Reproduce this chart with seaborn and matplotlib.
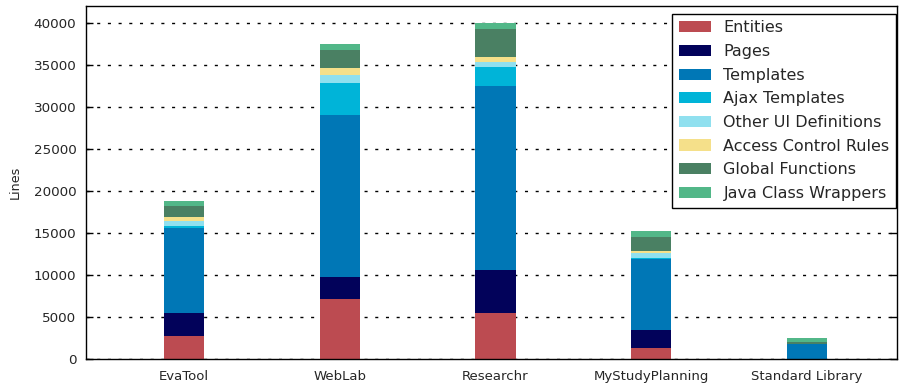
import numpy as np
import pandas as pd
import matplotlib
matplotlib.use("Agg")
import matplotlib.pyplot as plt
import seaborn as sns
from matplotlib.patches import Patch

categories = ["EvaTool", "WebLab", "Researchr", "MyStudyPlanning", "Standard Library"]
series = ["Entities", "Pages", "Templates", "Ajax Templates", "Other UI Definitions",
          "Access Control Rules", "Global Functions", "Java Class Wrappers"]
entities = [2750, 7150, 5500, 1300, 0]
pages = [2750, 2600, 5100, 2150, 0]
templates = [10100, 19300, 21900, 8400, 1800]
ajax_templates = [250, 3800, 2250, 150, 0]
other_ui = [550, 950, 600, 600, 0]
access_control = [450, 850, 600, 250, 0]
global_functions = [1350, 2150, 3350, 1650, 250]
java_wrappers = [550, 700, 700, 700, 450]
colors = ["#BC4B51", "#02025A", "#0077B6", "#00B4D8", "#90E0EF",
          "#F5E08A", "#4A8063", "#52B788"]

values = [entities, pages, templates, ajax_templates, other_ui,
          access_control, global_functions, java_wrappers]

sns.set_style("white")
plt.rcParams['font.family'] = ['DejaVu Sans']

fig = plt.figure(figsize=(8.99, 3.86), dpi=100)
ax = fig.add_axes([0.0957, 0.0699, 0.9021, 0.9146])

cum = np.cumsum(np.array(values, dtype=float), axis=0)
for i in range(len(series) - 1, -1, -1):
    df = pd.DataFrame({"cat": categories, "val": cum[i]})
    sns.barplot(data=df, x="cat", y="val", color=colors[i], saturation=1,
                width=0.26, ax=ax, linewidth=0, zorder=2)

ax.set_xlim(-0.629, 4.578)
ax.set_ylim(0, 42000)
ax.set_yticks(range(0, 40001, 5000))
ax.set_xlabel("")
ax.set_ylabel("Lines", fontsize=9.2, labelpad=8.5)
ax.yaxis.grid(True, color="black", linestyle=(0, (2.2, 5.5)), linewidth=1.0, zorder=0)
ax.set_axisbelow(True)
ax.tick_params(axis="y", direction="in", length=5, width=1, left=True, right=True,
               labelsize=9.7, color="black", pad=7)
ax.tick_params(axis="x", length=0, labelsize=9.5, pad=8)
for s in ax.spines.values():
    s.set_visible(True)
    s.set_color("black")
    s.set_linewidth(1.0)

handles = [Patch(facecolor=c, edgecolor="none", label=s) for s, c in zip(series, colors)]
leg = ax.legend(handles=handles, loc="upper right", bbox_to_anchor=(0.999, 0.978),
                fontsize=11.5, frameon=True, fancybox=False, framealpha=1,
                edgecolor="black", handlelength=2.05, handleheight=0.7,
                labelspacing=0.54, borderpad=0.42, handletextpad=0.75, borderaxespad=0.0)
leg.get_frame().set_linewidth(1.0)

fig.savefig("out.png", dpi=100)
